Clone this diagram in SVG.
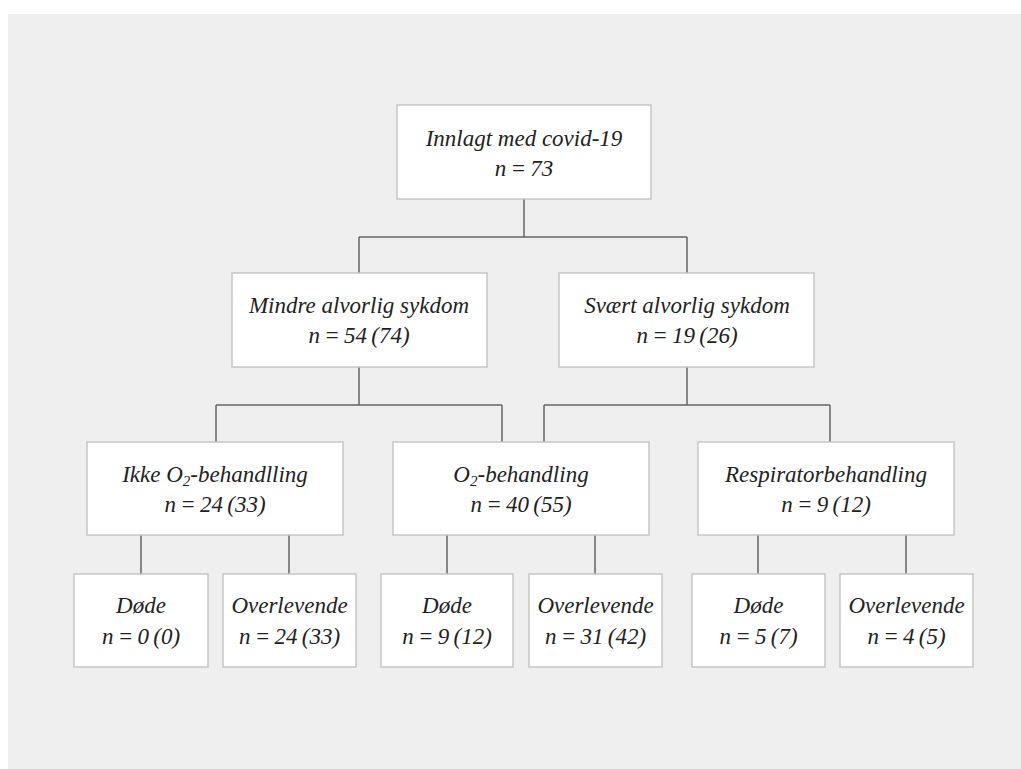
<svg xmlns="http://www.w3.org/2000/svg" width="1021" height="769" viewBox="0 0 1021 769">
<style>
.bg{fill:#efefef}
.box{fill:#ffffff;stroke:#c6c6c6;stroke-width:1.5}
.t{font-family:"Liberation Serif","Times New Roman",serif;font-style:italic;font-size:23px;fill:#222222;text-anchor:middle}
.n{word-spacing:-1.5px}
.sub{font-size:15px}
.conn path{fill:none;stroke:#666666;stroke-width:1.5}
</style>
<rect class="bg" x="8" y="14" width="1013" height="755"/>
<g class="conn" id="connectors">
<path d="M524,199 V237 M359,237 H687 M359,237 V273 M687,237 V273"/>
<path d="M359,367 V405 M216,405 H502 M216,405 V442 M502,405 V442"/>
<path d="M687,367 V405 M544,405 H830 M544,405 V442 M830,405 V442"/>
<path d="M141,535 V574 M289,535 V574"/>
<path d="M447,535 V574 M595,535 V574"/>
<path d="M758,535 V574 M906,535 V574"/>
</g>
<g id="n-innlagt">
<rect class="box" x="397" y="105" width="254" height="94"/>
<text class="t" x="524" y="146">Innlagt med covid-19</text>
<text class="t n" x="524" y="176">n = 73</text>
</g>
<g id="n-mindre">
<rect class="box" x="232" y="273" width="255" height="94"/>
<text class="t" x="359" y="313">Mindre alvorlig sykdom</text>
<text class="t n" x="359" y="343">n = 54 (74)</text>
</g>
<g id="n-svaert">
<rect class="box" x="559" y="273" width="255" height="94"/>
<text class="t" x="687" y="313">Svært alvorlig sykdom</text>
<text class="t n" x="687" y="343">n = 19 (26)</text>
</g>
<g id="n-ikke-o2">
<rect class="box" x="87" y="442" width="256" height="93"/>
<text class="t" x="215" y="482">Ikke O<tspan class="sub" dy="4">2</tspan><tspan dy="-4">-behandlling</tspan></text>
<text class="t n" x="215" y="512">n = 24 (33)</text>
</g>
<g id="n-o2">
<rect class="box" x="393" y="442" width="256" height="93"/>
<text class="t" x="521" y="482">O<tspan class="sub" dy="4">2</tspan><tspan dy="-4">-behandling</tspan></text>
<text class="t n" x="521" y="512">n = 40 (55)</text>
</g>
<g id="n-resp">
<rect class="box" x="698" y="442" width="256" height="93"/>
<text class="t" x="826" y="482">Respiratorbehandling</text>
<text class="t n" x="826" y="512">n = 9 (12)</text>
</g>
<g id="n-dode1">
<rect class="box" x="74" y="574" width="134" height="93"/>
<text class="t" x="141" y="613">Døde</text>
<text class="t n" x="141" y="644">n = 0 (0)</text>
</g>
<g id="n-overl1">
<rect class="box" x="223" y="574" width="133" height="93"/>
<text class="t" x="289.5" y="613">Overlevende</text>
<text class="t n" x="289.5" y="644">n = 24 (33)</text>
</g>
<g id="n-dode2">
<rect class="box" x="381" y="574" width="132" height="93"/>
<text class="t" x="447" y="613">Døde</text>
<text class="t n" x="447" y="644">n = 9 (12)</text>
</g>
<g id="n-overl2">
<rect class="box" x="529" y="574" width="133" height="93"/>
<text class="t" x="595.5" y="613">Overlevende</text>
<text class="t n" x="595.5" y="644">n = 31 (42)</text>
</g>
<g id="n-dode3">
<rect class="box" x="692" y="574" width="133" height="93"/>
<text class="t" x="758.5" y="613">Døde</text>
<text class="t n" x="758.5" y="644">n = 5 (7)</text>
</g>
<g id="n-overl3">
<rect class="box" x="840" y="574" width="133" height="93"/>
<text class="t" x="906.5" y="613">Overlevende</text>
<text class="t n" x="906.5" y="644">n = 4 (5)</text>
</g>
</svg>
